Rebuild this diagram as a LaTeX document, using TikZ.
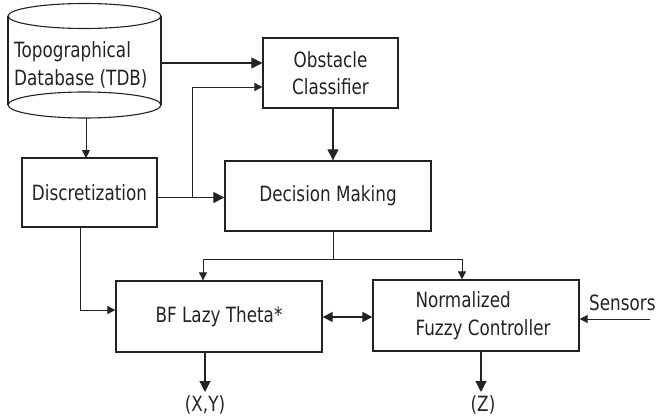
\documentclass[tikz,border=0pt]{standalone}
\usepackage{fontspec}
\setmainfont{DejaVu Sans}[FakeStretch=0.8]
\usetikzlibrary{arrows.meta}
\definecolor{ink}{RGB}{35,35,35}
\tikzset{
  lbl/.style={font=\fontsize{21}{27.5}\selectfont, text=ink, inner sep=0pt},
  blk/.style={draw=ink, line width=1.3pt, minimum width=206pt, minimum height=70pt, inner sep=0pt, lbl},
  wire/.style={draw=ink, line width=0.9pt},
  arrbig/.style={wire, -{Triangle[length=11pt,width=11pt]}},
  arrsm/.style={wire, -{Triangle[length=8pt,width=8pt]}},
  arrboth/.style={wire, line width=1.2pt, {Triangle[length=10pt,width=10pt]}-{Triangle[length=10pt,width=10pt]}},
}
\begin{document}
\begin{tikzpicture}[x=1pt, y=-1pt]
\useasboundingbox (0,0) rectangle (662,420);

% database drum
\draw[ink, line width=1.1pt, fill=white] (8,16) -- (8,105) (161,16) -- (161,105);
\draw[ink, line width=1.1pt] (84.5,16) ellipse [x radius=76.5pt, y radius=12.5pt];
\draw[ink, line width=1.1pt] (84.5,105) ellipse [x radius=76.5pt, y radius=13pt];
\node[minimum width=153pt, minimum height=115pt, inner sep=0pt] (tdb) at (84.5,60.5) {};
\node[lbl, align=left, anchor=west] (tdbtxt) at (14,65) {Topographical\\Database (TDB)};

% processing blocks
\node[blk, minimum width=135pt, minimum height=70pt, align=center] (obs) at (330.5,73) {Obstacle\\Classifier};
\node[blk, minimum width=135pt, minimum height=69pt] (disc) at (89.5,192.5) {Discretization};
\node[blk] (dec) at (328,196) {Decision Making};
\node[blk, minimum height=71pt] (bf) at (219,316.5) {BF Lazy Theta*};
\node[blk, minimum height=71pt, align=left] (nfc) at (476,315.5) {\hspace*{14pt}Normalized\\\hspace*{14pt}Fuzzy Controller};

% inputs and outputs
\node[lbl, anchor=west] (sens) at (589,303) {Sensors};
\coordinate (sensin) at (650,319);
\node[lbl] (xy) at (205,405) {(X,Y)};
\node[lbl] (z) at (483,405) {(Z)};

% junctions
\coordinate (j1) at (192,197.5);
\coordinate (j2) at (333,259);

% connectors
\draw[arrbig, line width=1.1pt] (tdb.east |- 0,63) -- (obs.west |- 0,63);
\draw[arrsm] (86,118) -- (86,158);
\draw[arrbig, line width=1.1pt] (disc.east |- j1) -- (dec.west |- j1);
\draw[arrsm] (j1) -- (192,87) -- (obs.west |- 0,87);
\draw[arrbig, line width=1.1pt] (obs.south -| 333,0) -- (dec.north -| 333,0);
\draw[wire] (dec.south -| j2) -- (j2);
\draw[arrsm] (203,259) -| (bf.north -| 203,0);
\draw[wire] (203,259) -- (462,259);
\draw[arrsm] (462,259) -- (nfc.north -| 462,0);
\draw[arrsm] (disc.south -| 80,0) -- (80,310) -- (bf.west |- 0,310);
\draw[arrboth] (bf.east |- 0,317) -- (nfc.west |- 0,317);
\draw[arrsm] (sensin) -- (nfc.east |- sensin);
\draw[arrbig, line width=1.2pt] (bf.south -| xy) -- (205,392);
\draw[arrbig, line width=1.2pt] (nfc.south -| 481,0) -- (481,392);
\end{tikzpicture}
\end{document}
